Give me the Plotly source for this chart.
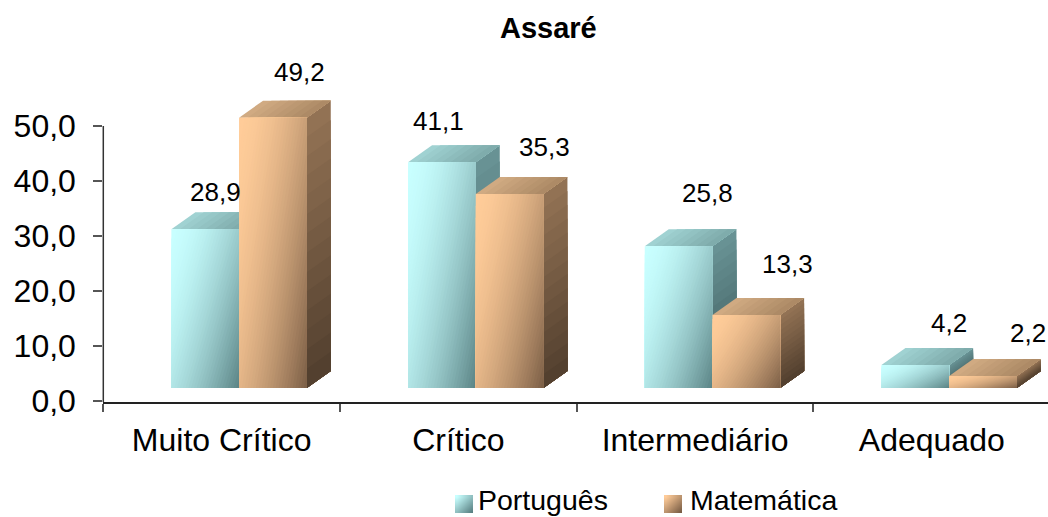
import plotly.graph_objects as go

# ---- data ----
categories = ["Muito Crítico", "Crítico", "Intermediário", "Adequado"]
portugues = [28.9, 41.1, 25.8, 4.2]
matematica = [49.2, 35.3, 13.3, 2.2]
y_ticks = [0, 10, 20, 30, 40, 50]

# ---- geometry (pixels of the 1048x517 page) ----
W, H = 1048, 517
PX0, PX1 = 103.3, 1048.0      # plot area left / right
PY_BOT, PY_TOP = 402.0, 50.0  # plot area bottom / top
CAT_PX = 236.7
UNIT_PX = 5.494
Y0_PX = 400.7
FLOOR = (Y0_PX - 388.0) / UNIT_PX   # front faces stand on this level
DX = 24 / CAT_PX
DY = 17 / UNIT_PX
BAR_W = 67.7 / CAT_PX
LEFT_OFF = -50.3 / CAT_PX
xrange_ = [-0.5, -0.5 + (PX1 - PX0) / CAT_PX]
yrange_ = [-(PY_BOT - Y0_PX) / UNIT_PX, (Y0_PX - PY_TOP) / UNIT_PX]

# ---- styles ----
STYLE = {
    "teal": dict(light=(200, 255, 255), dark=(88, 128, 130), side0=(104, 146, 148), side1=(58, 86, 88),
                 top0=(160, 210, 210), top1=(122, 166, 166)),
    "orange": dict(light=(255, 204, 153), dark=(120, 92, 68), side0=(146, 114, 84), side1=(78, 60, 44),
                   top0=(208, 170, 130), top1=(168, 134, 98)),
}
# label offset from bar centre / top, in pixels
LABEL_SHIFT_P = [(10, 37), (-3, 41), (29, 53), (34, 42)]
LABEL_SHIFT_M = [(27, 46), (35, 47), (41, 51), (45, 43)]


def mix(a, b, t):
    return "rgb(%d,%d,%d)" % tuple(round(a[i] + (b[i] - a[i]) * t) for i in range(3))


def clip_corner(x0, x1, y0, y1, t, wu=1.2, wv=0.8):
    """Part of the box with (wu*u + wv*v) >= t, u to the right, v downwards."""
    w, h = x1 - x0, y1 - y0
    pts = [(0, 0), (1, 0), (1, 1), (0, 1)]
    out = []
    for i in range(4):
        a, b = pts[i], pts[(i + 1) % 4]
        sa, sb = wu * a[0] + wv * a[1] - t, wu * b[0] + wv * b[1] - t
        if sa >= 0:
            out.append(a)
        if sa * sb < 0:
            k = sa / (sa - sb)
            out.append((a[0] + (b[0] - a[0]) * k, a[1] + (b[1] - a[1]) * k))
    return [x0 + p[0] * w for p in out], [y1 - p[1] * h for p in out]


def poly(xs, ys, color):
    return go.Scatter(x=xs + xs[:1], y=ys + ys[:1], mode="lines", fill="toself", fillcolor=color,
                      line=dict(width=0, color=color), hoverinfo="skip", showlegend=False)


def draw_bar(fig, xl, val, st):
    xr = xl + BAR_W
    b, t = FLOOR, FLOOR + val
    # side face: painted from the whole face, shrinking to the bottom
    n = 14
    for k in range(n):
        f = k / n
        top_k = t - (t - b) * f
        fig.add_trace(poly([xr, xr + DX, xr + DX, xr], [b, b + DY, top_k + DY, top_k],
                           mix(st["side0"], st["side1"], f)))
    # top face: left to right
    n = 8
    for k in range(n):
        f = k / n
        s = xl + (xr - xl) * f
        fig.add_trace(poly([s, xr, xr + DX, s + DX], [t, t, t + DY, t + DY],
                           mix(st["top0"], st["top1"], f)))
    # front face: diagonal gradient
    n = 40
    for k in range(n):
        f = k / n
        xs, ys = clip_corner(xl, xr, b, t, 2 * f)
        if len(xs) >= 3:
            fig.add_trace(poly(xs, ys, mix(st["light"], st["dark"], f ** 1.7)))


fig = go.Figure()
centers = list(range(len(categories)))

# data bars (carry values and legend); the shaded faces are painted over them
fig.add_trace(go.Bar(name="Português", x=[c + LEFT_OFF + BAR_W / 2 for c in centers], y=portugues,
                     base=[FLOOR] * 4, width=BAR_W, marker=dict(color="rgba(0,0,0,0)", line=dict(width=0)),
                     hoverinfo="skip"))
fig.add_trace(go.Bar(name="Matemática", x=[c + LEFT_OFF + 1.5 * BAR_W for c in centers], y=matematica,
                     base=[FLOOR] * 4, width=BAR_W, marker=dict(color="rgba(0,0,0,0)", line=dict(width=0)),
                     hoverinfo="skip"))

for c, p, m in zip(centers, portugues, matematica):
    draw_bar(fig, c + LEFT_OFF, p, STYLE["teal"])
    draw_bar(fig, c + LEFT_OFF + BAR_W, m, STYLE["orange"])

# value labels
ann = []
for c, p, m, sp, sm in zip(centers, portugues, matematica, LABEL_SHIFT_P, LABEL_SHIFT_M):
    for xc, v, s in ((c + LEFT_OFF + BAR_W / 2, p, sp), (c + LEFT_OFF + 1.5 * BAR_W, m, sm)):
        ann.append(dict(x=xc, y=FLOOR + v, xref="x", yref="y", text=f"{v:.1f}".replace(".", ","),
                        showarrow=False, xshift=s[0], yshift=s[1], xanchor="center", yanchor="middle",
                        font=dict(size=26, color="black", family="Liberation Sans")))
ann.append(dict(x=548.5 / W, y=1 - 28 / H, xref="paper", yref="paper", text="<b>Assaré</b>", showarrow=False,
                xanchor="center", yanchor="middle", font=dict(size=29, color="black", family="Liberation Sans")))

# legend gradient swatches
grad = [[0.15 * (i + j) for i in range(6)] for j in range(6)]
fig.add_trace(go.Heatmap(z=grad, xaxis="x2", yaxis="y2", showscale=False, zsmooth="best", zmin=0, zmax=1.5,
                         colorscale=[[0, "rgb(200,255,255)"], [1, "rgb(88,128,130)"]], hoverinfo="skip"))
fig.add_trace(go.Heatmap(z=grad, xaxis="x3", yaxis="y3", showscale=False, zsmooth="best", zmin=0, zmax=1.5,
                         colorscale=[[0, "rgb(255,204,153)"], [1, "rgb(120,92,68)"]], hoverinfo="skip"))

hidden = dict(visible=False, fixedrange=True)
fig.update_layout(
    width=W, height=H, margin=dict(l=0, r=0, t=0, b=0, pad=0, autoexpand=False),
    paper_bgcolor="white", plot_bgcolor="white", separators=",.",
    font=dict(family="Liberation Sans", color="black"),
    barmode="overlay",
    annotations=ann,
    xaxis=dict(domain=[PX0 / W, PX1 / W], range=xrange_, showgrid=False, zeroline=False,
               showline=True, linecolor="#222222", linewidth=2,
               tickmode="array", tickvals=centers, ticktext=categories, ticks="", ticklen=0,
               tickfont=dict(size=32), ticklabelstandoff=9,
               minor=dict(tickmode="array", tickvals=[-0.5, 0.5, 1.5, 2.5], ticks="outside", ticklen=8,
                          tickcolor="#555555", tickwidth=1.5, showgrid=False)),
    yaxis=dict(domain=[1 - PY_BOT / H, 1 - PY_TOP / H], range=yrange_, showgrid=False, zeroline=False,
               showline=False, tickmode="array", tickvals=y_ticks, tickformat=".1f",
               ticks="outside", ticklen=9, tickcolor="#555555", tickwidth=1.5, tickfont=dict(size=32),
               ticklabelstandoff=11),
    xaxis2=dict(domain=[455 / W, 473 / W], anchor="y2", **hidden),
    yaxis2=dict(domain=[1 - 513 / H, 1 - 495 / H], anchor="x2", autorange="reversed", **hidden),
    xaxis3=dict(domain=[664 / W, 682 / W], anchor="y3", **hidden),
    yaxis3=dict(domain=[1 - 513 / H, 1 - 495 / H], anchor="x3", autorange="reversed", **hidden),
    legend=dict(orientation="h", x=438 / W, y=1 - 474 / H, xanchor="left", yanchor="top",
                font=dict(size=28.5), entrywidth=167, entrywidthmode="pixels",
                bgcolor="rgba(0,0,0,0)", traceorder="normal"),
    shapes=[dict(type="line", xref="paper", yref="y", x0=PX0 / W, x1=PX0 / W, y0=yrange_[0], y1=50,
                 line=dict(color="#333333", width=1.5))],
)

fig.write_html("out.html", config={"displayModeBar": False},
               post_script="document.body.style.margin='0';")
